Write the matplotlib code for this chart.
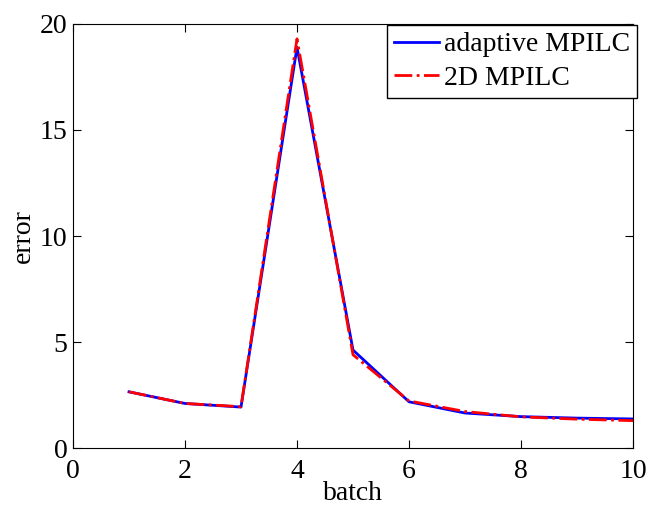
import numpy as np
import matplotlib
matplotlib.use('Agg')
import matplotlib.pyplot as plt

plt.rcParams['font.family'] = 'Liberation Serif'

batch = [1, 2, 3, 4, 5, 6, 7, 8, 9, 10]
adaptive = [2.65, 2.1, 1.93, 18.9, 4.62, 2.18, 1.65, 1.48, 1.41, 1.37]
mpilc_2d = [2.65, 2.1, 1.95, 19.3, 4.4, 2.22, 1.72, 1.47, 1.36, 1.29]

fig = plt.figure(figsize=(6.53, 5.07), dpi=100)
# axes box: left 73, right 633, top 24, bottom 448 (pixels)
ax = fig.add_axes([73/653, (507-448)/507, 560/653, 424/507])

ax.plot(batch, adaptive, color='blue', lw=2, label='adaptive MPILC')
ax.plot(batch, mpilc_2d, color='red', lw=2, ls='-.', label='2D MPILC')

ax.set_xlim(0, 10)
ax.set_ylim(0, 20)
ax.set_xticks([0, 2, 4, 6, 8, 10])
ax.set_yticks([0, 5, 10, 15, 20])
ax.tick_params(direction='in', labelsize=20, top=True, right=True, length=6)
ax.tick_params(axis='x', pad=8)
ax.tick_params(axis='y', pad=4)
ax.set_xlabel('batch', fontsize=20, labelpad=-2)
ax.set_ylabel('error', fontsize=20, labelpad=3)

leg = ax.legend(loc='upper right', bbox_to_anchor=(1.008, 0.998), fontsize=20,
                fancybox=False, framealpha=1, edgecolor='black',
                borderpad=0.25, handlelength=1.6, handletextpad=0.2,
                labelspacing=0.3, borderaxespad=0)
leg.get_frame().set_linewidth(1)

fig.savefig('out.png', dpi=100)
